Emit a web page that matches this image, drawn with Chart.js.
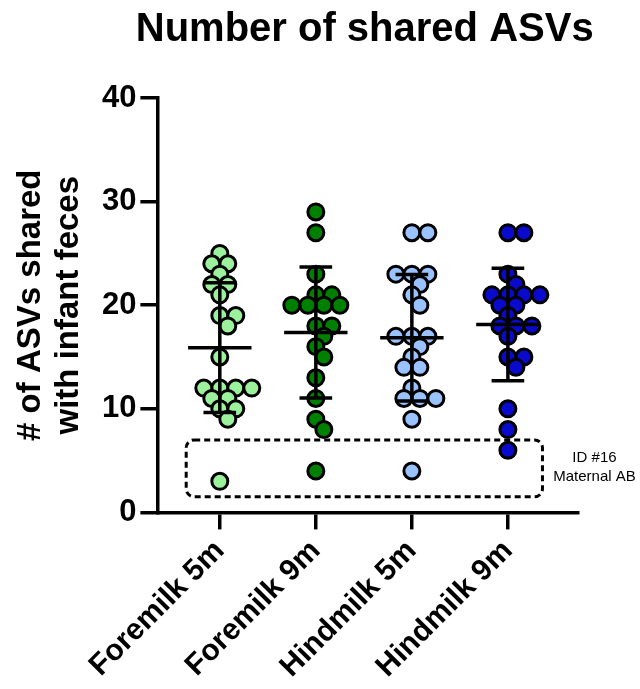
<!DOCTYPE html>
<html>
<head>
<meta charset="utf-8">
<script src="https://cdn.jsdelivr.net/npm/chart.js@4"></script>
<style>
  html, body { margin: 0; padding: 0; background: #fff; }
  #wrap { width: 640px; height: 689px; }
</style>
</head>
<body>
<div id="wrap"><canvas id="chart"></canvas></div>
<script>
// Data
const categories = ['Foremilk 5m', 'Foremilk 9m', 'Hindmilk 5m', 'Hindmilk 9m'];
const foremilk5m = [25, 24, 24, 23, 22, 22, 21, 19, 19, 18, 15, 12, 12, 12, 12, 11, 11, 10, 10, 9, 3];
const foremilk9m = [29, 27, 23, 21, 21, 20, 20, 20, 20, 18, 18, 17, 16, 15, 13, 11, 9, 8, 4];
const hindmilk5m = [27, 27, 23, 23, 23, 22, 21, 20, 17, 17, 17, 16, 15, 14, 14, 12, 11, 11, 11, 9, 4];
const hindmilk9m = [27, 27, 23, 22, 21, 21, 21, 21, 20, 20, 19, 18, 18, 18, 17, 15, 15, 14, 10, 8, 6];
const yTicks = [0, 10, 20, 30, 40];
const groups = [foremilk5m, foremilk9m, hindmilk5m, hindmilk9m];
const colors = ['#9cf29c', '#008000', '#99c2ff', '#0a0acc'];

const chartTitle = 'Number of shared ASVs';

// Outlier box (ID #16, maternal antibiotics) in data units
const boxX = [-0.35, 3.36];
const boxY = [1.5, 7];
const boxLabel = ['ID #16', 'Maternal AB'];

const FONT = "'Liberation Sans', Arial, sans-serif";
const STEP = 8;      // swarm step in px
const MIN_DIST = 12; // min distance between point centres in px

// title centred over the plot area (wider than it, so drawn by hand)
const titlePlugin = {
  id: 'plotTitle',
  afterDraw(chart) {
    const { ctx, chartArea } = chart;
    ctx.save();
    ctx.fillStyle = '#000';
    ctx.font = 'bold 40px ' + FONT;
    ctx.textAlign = 'center';
    ctx.textBaseline = 'middle';
    ctx.fillText(chartTitle, (chartArea.left + chartArea.right) / 2 - 3, 30);
    ctx.restore();
  }
};

// mean + SD lines, drawn over the points
const meanSdPlugin = {
  id: 'meanSd',
  afterDatasetsDraw(chart) {
    const { ctx, scales: { x, y } } = chart;
    ctx.save();
    ctx.strokeStyle = '#000';
    ctx.lineWidth = 3.5;
    groups.forEach((vals, i) => {
      const n = vals.length;
      const mean = vals.reduce((a, b) => a + b, 0) / n;
      const sd = Math.sqrt(vals.reduce((a, b) => a + (b - mean) ** 2, 0) / (n - 1));
      const cx = x.getPixelForValue(i);
      const half = x.getPixelForValue(i + 0.33) - cx;
      const cap = x.getPixelForValue(i + 0.17) - cx;
      const yTop = y.getPixelForValue(mean + sd);
      const yBot = y.getPixelForValue(mean - sd);
      const yMean = y.getPixelForValue(mean);
      ctx.beginPath();
      ctx.moveTo(cx, yTop); ctx.lineTo(cx, yBot);
      ctx.moveTo(cx - cap, yTop); ctx.lineTo(cx + cap, yTop);
      ctx.moveTo(cx - cap, yBot); ctx.lineTo(cx + cap, yBot);
      ctx.moveTo(cx - half, yMean); ctx.lineTo(cx + half, yMean);
      ctx.stroke();
    });
    ctx.restore();
  }
};

// dashed box around the outliers and its note
const outlierBoxPlugin = {
  id: 'outlierBox',
  afterDraw(chart) {
    const { ctx, scales: { x, y } } = chart;
    const l = x.getPixelForValue(boxX[0]), r = x.getPixelForValue(boxX[1]);
    const t = y.getPixelForValue(boxY[1]), b = y.getPixelForValue(boxY[0]);
    ctx.save();
    ctx.strokeStyle = '#000';
    ctx.lineWidth = 3;
    ctx.setLineDash([6, 4]);
    ctx.beginPath();
    ctx.roundRect(l, t, r - l, b - t, 8);
    ctx.stroke();
    ctx.setLineDash([]);
    ctx.fillStyle = '#000';
    ctx.font = '15px ' + FONT;
    ctx.textAlign = 'center';
    ctx.textBaseline = 'middle';
    const tx = r + 52, ty = (t + b) / 2 - 2;
    ctx.fillText(boxLabel[0], tx, ty - 9);
    ctx.fillText(boxLabel[1], tx, ty + 10);
    ctx.restore();
  }
};

const chart = new Chart(document.getElementById('chart'), {
  type: 'scatter',
  data: {
    datasets: groups.map((vals, i) => ({
      label: categories[i],
      data: vals.map(v => ({ x: i, y: v })),
      backgroundColor: colors[i],
      borderColor: '#000',
      borderWidth: 3,
      pointRadius: 8,
      pointHoverRadius: 8
    }))
  },
  options: {
    responsive: true,
    maintainAspectRatio: false,
    animation: false,
    layout: { padding: { left: 12, right: 62, top: 98, bottom: 0 } },
    plugins: {
      legend: { display: false },
      tooltip: { enabled: false },
      title: { display: false }
    },
    scales: {
      x: {
        type: 'linear',
        min: -0.65,
        max: 3.73,
        afterBuildTicks: scale => { scale.ticks = categories.map((c, i) => ({ value: i })); },
        border: { display: true, color: '#000', width: 3.5 },
        grid: { display: true, drawOnChartArea: false, drawTicks: true, tickLength: 17, color: '#000', lineWidth: 3.5 },
        ticks: {
          color: '#000',
          minRotation: 45,
          maxRotation: 45,
          padding: 4,
          font: { family: FONT, size: 30, weight: 'bold' },
          callback: v => categories[v]
        }
      },
      y: {
        min: 0,
        max: 40,
        afterBuildTicks: scale => { scale.ticks = yTicks.map(v => ({ value: v })); },
        border: { display: true, color: '#000', width: 3.5 },
        grid: { display: true, drawOnChartArea: false, drawTicks: true, tickLength: 17, color: '#000', lineWidth: 3.5 },
        ticks: {
          color: '#000',
          padding: 4,
          font: { family: FONT, size: 31, weight: 'bold' }
        },
        title: {
          display: true,
          text: ['# of ASVs shared', 'with infant feces'],
          color: '#000',
          font: { family: FONT, size: 33, weight: 'bold', lineHeight: 1.15 },
          padding: { top: 0, bottom: 10 }
        }
      }
    }
  },
  plugins: [titlePlugin, meanSdPlugin, outlierBoxPlugin]
});

// spread equal / close values sideways like a scatter dot plot
function swarm() {
  const xs = chart.scales.x, ys = chart.scales.y;
  const unit = xs.getPixelForValue(1) - xs.getPixelForValue(0);
  chart.data.datasets.forEach((ds, i) => {
    const placed = [];
    ds.data = groups[i].slice().sort((a, b) => b - a).map(v => {
      const py = ys.getPixelForValue(v);
      let dx = 0;
      for (let k = 0; k < 30; k++) {
        const c = Math.ceil(k / 2) * STEP * (k % 2 ? 1 : -1);
        if (placed.every(p => Math.hypot(p.dx - c, p.py - py) >= MIN_DIST)) { dx = c; break; }
      }
      placed.push({ dx, py });
      return { x: i + dx / unit, y: v };
    });
  });
  chart.update('none');
}
swarm();
</script>
</body>
</html>
